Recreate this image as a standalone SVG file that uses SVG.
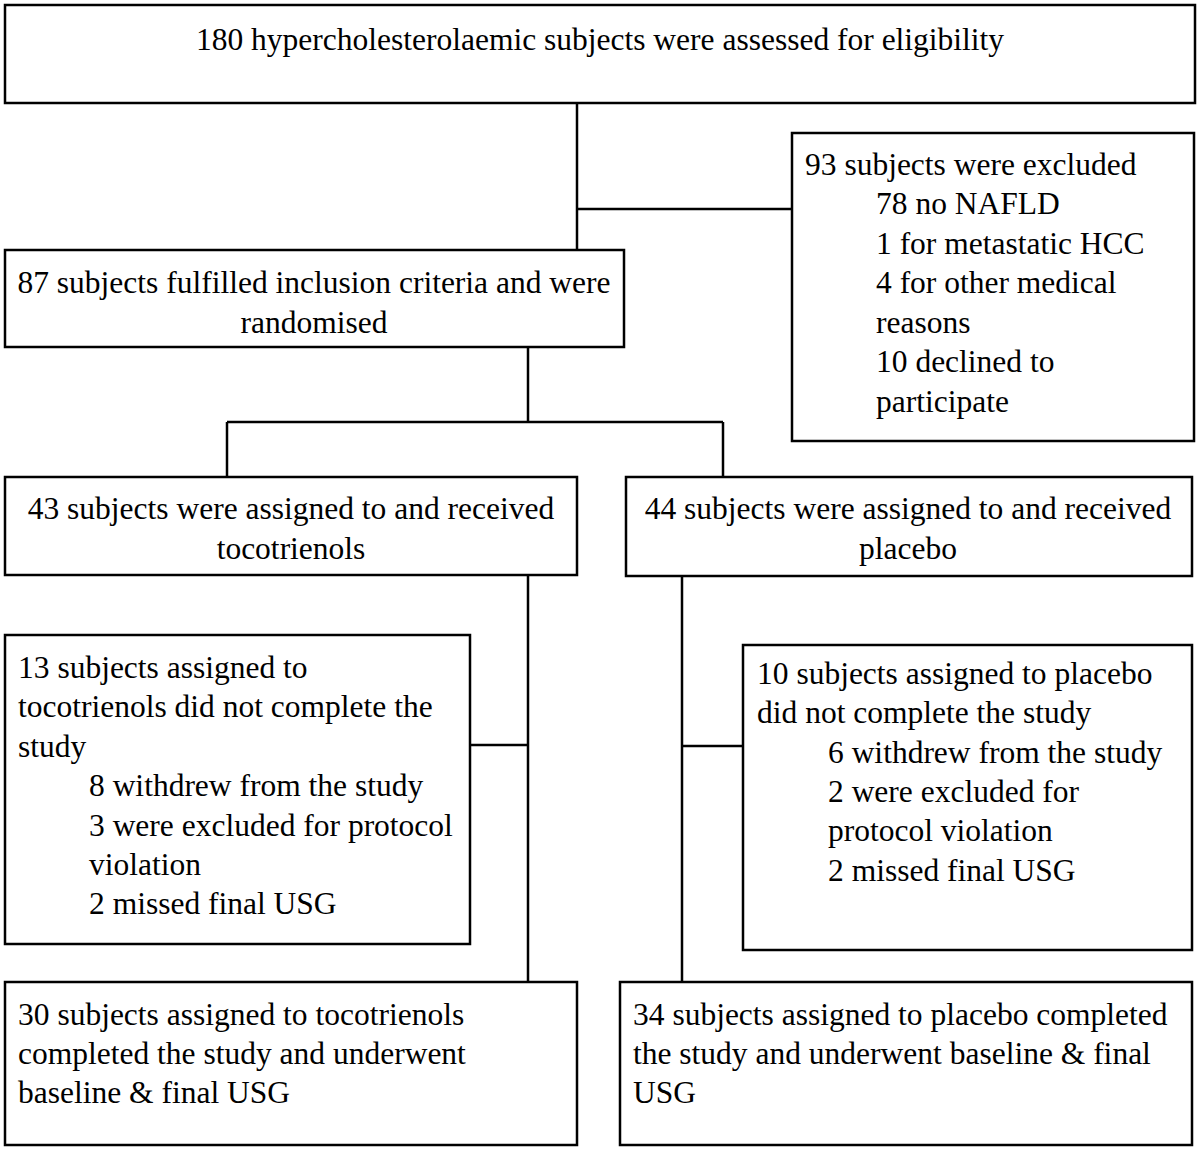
<svg xmlns="http://www.w3.org/2000/svg" width="1200" height="1153" viewBox="0 0 1200 1153">
<style>
rect{fill:#fff;stroke:#000;stroke-width:2.5}
line{stroke:#000;stroke-width:2.5}
text{font-family:"Liberation Serif","Times New Roman",serif;font-size:31.5px;fill:#000}
.c{text-anchor:middle}
</style>
<rect x="0" y="0" width="1200" height="1153" style="stroke:none"/>
<g id="connectors">
<line x1="577" y1="103" x2="577" y2="250"/>
<line x1="577" y1="209" x2="792" y2="209"/>
<line x1="528" y1="347" x2="528" y2="422"/>
<line x1="227" y1="422" x2="723" y2="422"/>
<line x1="227" y1="422" x2="227" y2="477"/>
<line x1="723" y1="422" x2="723" y2="477"/>
<line x1="528" y1="575" x2="528" y2="982"/>
<line x1="470" y1="745" x2="528" y2="745"/>
<line x1="682" y1="576" x2="682" y2="982"/>
<line x1="682" y1="746" x2="743" y2="746"/>
</g>
<g id="n1"><rect x="5" y="5" width="1190" height="98"/>
<text class="c" x="600" y="50">180 hypercholesterolaemic subjects were assessed for eligibility</text></g>
<g id="n2"><rect x="792" y="133" width="402" height="308"/>
<text x="805" y="175">93 subjects were excluded</text>
<text x="876" y="214">78 no NAFLD</text>
<text x="876" y="254">1 for metastatic HCC</text>
<text x="876" y="293">4 for other medical</text>
<text x="876" y="333">reasons</text>
<text x="876" y="372">10 declined to</text>
<text x="876" y="412">participate</text></g>
<g id="n3"><rect x="5" y="250" width="619" height="97"/>
<text class="c" x="314" y="293">87 subjects fulfilled inclusion criteria and were</text>
<text class="c" x="314" y="333">randomised</text></g>
<g id="n4"><rect x="5" y="477" width="572" height="98"/>
<text class="c" x="291" y="519">43 subjects were assigned to and received</text>
<text class="c" x="291" y="559">tocotrienols</text></g>
<g id="n5"><rect x="626" y="477" width="566" height="99"/>
<text class="c" x="908" y="519">44 subjects were assigned to and received</text>
<text class="c" x="908" y="559">placebo</text></g>
<g id="n6"><rect x="5" y="635" width="465" height="309"/>
<text x="18" y="678">13 subjects assigned to</text>
<text x="18" y="717">tocotrienols did not complete the</text>
<text x="18" y="757">study</text>
<text x="89" y="796">8 withdrew from the study</text>
<text x="89" y="836">3 were excluded for protocol</text>
<text x="89" y="875">violation</text>
<text x="89" y="914">2 missed final USG</text></g>
<g id="n7"><rect x="743" y="645" width="449" height="305"/>
<text x="757" y="684">10 subjects assigned to placebo</text>
<text x="757" y="723">did not complete the study</text>
<text x="828" y="763">6 withdrew from the study</text>
<text x="828" y="802">2 were excluded for</text>
<text x="828" y="841">protocol violation</text>
<text x="828" y="881">2 missed final USG</text></g>
<g id="n8"><rect x="5" y="982" width="572" height="163"/>
<text x="18" y="1025">30 subjects assigned to tocotrienols</text>
<text x="18" y="1064">completed the study and underwent</text>
<text x="18" y="1103">baseline &amp; final USG</text></g>
<g id="n9"><rect x="620" y="982" width="572" height="163"/>
<text x="633" y="1025">34 subjects assigned to placebo completed</text>
<text x="633" y="1064">the study and underwent baseline &amp; final</text>
<text x="633" y="1103">USG</text></g>
</svg>
